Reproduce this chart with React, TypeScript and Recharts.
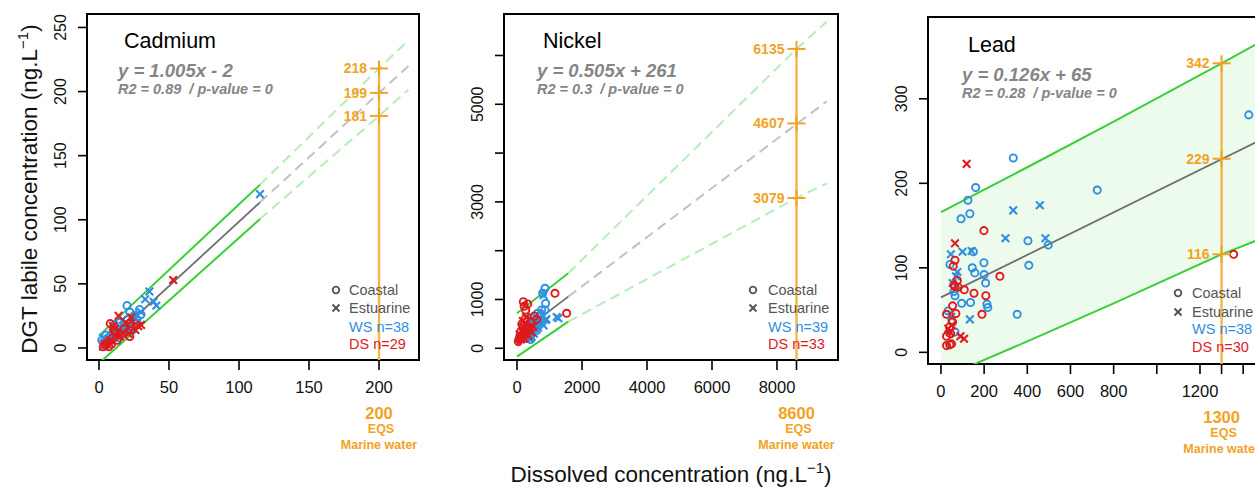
import React from "react";
import {
  ComposedChart,
  Scatter,
  Area,
  XAxis,
  YAxis,
  ReferenceArea,
} from "recharts";

const FONT = '"Liberation Sans", Arial, sans-serif';
const BLUE = "#2f8fe0";
const RED = "#de1a1d";
const ORANGE = "#f2a224";
const ORANGE_LINE = "#f5b548";
const GREEN = "#38cf38";
const GREEN_DASH = "#b6ecb6";
const GREY_DASH = "#c2c2c2";
const GREY_FIT = "#6f6f6f";

type Pt = { x: number; y: number; label?: string };

// ---------- Cadmium ----------
const cdWsCoastal: Pt[] = [
  { x: 20, y: 33 }, { x: 29, y: 30 }, { x: 2, y: 6 }, { x: 10, y: 12 },
  { x: 15, y: 20 }, { x: 25, y: 25 }, { x: 18, y: 18 }, { x: 27, y: 22 },
  { x: 12, y: 15 }, { x: 8, y: 9 }, { x: 22, y: 28 }, { x: 6, y: 5 },
  { x: 24, y: 14 }, { x: 17, y: 11 }, { x: 30, y: 26 }, { x: 14, y: 8 },
  { x: 5, y: 10 }, { x: 20, y: 22 }, { x: 26, y: 19 }, { x: 11, y: 18 },
];
const cdWsEstuarine: Pt[] = [
  { x: 115, y: 120 }, { x: 36, y: 44 }, { x: 39, y: 36 }, { x: 41, y: 33 },
  { x: 27, y: 26 }, { x: 17, y: 22 }, { x: 25, y: 24 }, { x: 30, y: 28 },
  { x: 22, y: 17 }, { x: 9, y: 7 }, { x: 14, y: 14 }, { x: 33, y: 38 },
  { x: 19, y: 15 }, { x: 28, y: 21 }, { x: 12, y: 11 }, { x: 4, y: 3 },
  { x: 7, y: 6 }, { x: 3, y: 8 },
];
const cdDsCoastal: Pt[] = [
  { x: 8, y: 19 }, { x: 22, y: 19 }, { x: 23, y: 17 }, { x: 22, y: 9 },
  { x: 5, y: 2 }, { x: 3, y: 1 }, { x: 6, y: 4 }, { x: 7, y: 1 },
  { x: 9, y: 3 }, { x: 10, y: 8 }, { x: 12, y: 12 }, { x: 15, y: 10 },
  { x: 18, y: 15 }, { x: 4, y: 3 }, { x: 13, y: 6 }, { x: 11, y: 14 },
];
const cdDsEstuarine: Pt[] = [
  { x: 53, y: 53 }, { x: 14, y: 25 }, { x: 23, y: 24 }, { x: 28, y: 17 },
  { x: 11, y: 15 }, { x: 15, y: 9 }, { x: 19, y: 20 }, { x: 26, y: 14 },
  { x: 10, y: 17 }, { x: 17, y: 12 }, { x: 30, y: 18 }, { x: 8, y: 6 },
  { x: 21, y: 11 },
];
const cdFit: Pt[] = [{ x: 0, y: -2 }, { x: 115, y: 113.6 }];
const cdFitExt: Pt[] = [{ x: 115, y: 113.6 }, { x: 221, y: 220 }];
const cdUpper: Pt[] = [{ x: 0, y: 9.6 }, { x: 115, y: 127.4 }];
const cdUpperExt: Pt[] = [{ x: 115, y: 127.4 }, { x: 200, y: 218 }, { x: 221, y: 240 }];
const cdLower: Pt[] = [{ x: 0, y: -12 }, { x: 115, y: 100.6 }];
const cdLowerExt: Pt[] = [{ x: 115, y: 100.6 }, { x: 200, y: 181 }, { x: 221, y: 201.5 }];
const cdEqs: Pt[] = [
  { x: 200, y: 218, label: "218" },
  { x: 200, y: 199, label: "199" },
  { x: 200, y: 181, label: "181" },
];
const cdXTicks = [0, 50, 100, 150, 200];
const cdYTicks = [0, 50, 100, 150, 200, 250];

// ---------- Nickel ----------
const niWsCoastal: Pt[] = [
  { x: 862, y: 1229 }, { x: 790, y: 1127 }, { x: 882, y: 922 }, { x: 759, y: 785 },
  { x: 636, y: 717 }, { x: 862, y: 785 }, { x: 700, y: 650 }, { x: 560, y: 580 },
  { x: 480, y: 520 }, { x: 520, y: 430 }, { x: 400, y: 380 }, { x: 600, y: 470 },
  { x: 450, y: 300 }, { x: 380, y: 250 }, { x: 300, y: 200 }, { x: 650, y: 560 },
  { x: 750, y: 700 }, { x: 420, y: 180 }, { x: 350, y: 420 }, { x: 560, y: 350 },
  { x: 280, y: 320 }, { x: 500, y: 620 },
];
const niWsEstuarine: Pt[] = [
  { x: 820, y: 1090 }, { x: 1272, y: 615 }, { x: 892, y: 580 }, { x: 1220, y: 640 },
  { x: 700, y: 520 }, { x: 600, y: 380 }, { x: 520, y: 300 }, { x: 450, y: 230 },
  { x: 380, y: 200 }, { x: 820, y: 470 }, { x: 650, y: 420 }, { x: 300, y: 260 },
  { x: 550, y: 480 }, { x: 480, y: 380 }, { x: 900, y: 600 }, { x: 350, y: 330 },
  { x: 420, y: 450 },
];
const niDsCoastal: Pt[] = [
  { x: 1169, y: 1127 }, { x: 1528, y: 717 }, { x: 195, y: 955 }, { x: 328, y: 908 },
  { x: 267, y: 785 }, { x: 220, y: 860 }, { x: 533, y: 662 }, { x: 605, y: 594 },
  { x: 150, y: 500 }, { x: 250, y: 600 }, { x: 300, y: 450 }, { x: 120, y: 350 },
  { x: 200, y: 300 }, { x: 90, y: 250 }, { x: 60, y: 180 }, { x: 41, y: 137 },
  { x: 180, y: 420 }, { x: 350, y: 380 }, { x: 100, y: 200 }, { x: 420, y: 540 },
];
const niDsEstuarine: Pt[] = [
  { x: 250, y: 520 }, { x: 300, y: 300 }, { x: 200, y: 350 }, { x: 150, y: 230 },
  { x: 400, y: 420 }, { x: 350, y: 250 }, { x: 120, y: 180 }, { x: 450, y: 330 },
  { x: 80, y: 280 }, { x: 500, y: 450 }, { x: 220, y: 200 }, { x: 280, y: 640 },
  { x: 180, y: 560 },
];
const niFit: Pt[] = [{ x: 0, y: 261 }, { x: 1578, y: 1058 }];
const niFitExt: Pt[] = [{ x: 1578, y: 1058 }, { x: 9529, y: 5060 }];
const niUpper: Pt[] = [{ x: 0, y: 717 }, { x: 1578, y: 1537 }];
const niUpperExt: Pt[] = [{ x: 1578, y: 1537 }, { x: 8600, y: 6135 }, { x: 9529, y: 6693 }];
const niLower: Pt[] = [{ x: 0, y: -172 }, { x: 1578, y: 545 }];
const niLowerExt: Pt[] = [{ x: 1578, y: 545 }, { x: 8600, y: 3079 }, { x: 9529, y: 3381 }];
const niEqs: Pt[] = [
  { x: 8600, y: 6135, label: "6135" },
  { x: 8600, y: 4607, label: "4607" },
  { x: 8600, y: 3079, label: "3079" },
];
const niXTicks = [0, 2000, 4000, 6000, 8000, 8600];
const niXLabels = [0, 2000, 4000, 6000, 8000];
const niYTicks = [0, 1000, 2000, 3000, 4000, 5000, 6000];
const niYLabels = [0, 1000, 3000, 5000];

// ---------- Lead ----------
const pbWsCoastal: Pt[] = [
  { x: 335, y: 230 }, { x: 161, y: 195 }, { x: 125, y: 180 }, { x: 134, y: 164 },
  { x: 93, y: 158 }, { x: 724, y: 192 }, { x: 403, y: 132 }, { x: 497, y: 127 },
  { x: 1426, y: 281 }, { x: 150, y: 119 }, { x: 42, y: 104 }, { x: 199, y: 106 },
  { x: 145, y: 100 }, { x: 157, y: 94 }, { x: 200, y: 92 }, { x: 407, y: 103 },
  { x: 207, y: 82 }, { x: 65, y: 67 }, { x: 96, y: 58 }, { x: 137, y: 59 },
  { x: 213, y: 57 }, { x: 217, y: 53 }, { x: 353, y: 45 }, { x: 33, y: 49 },
  { x: 65, y: 24 }, { x: 60, y: 72 },
];
const pbWsEstuarine: Pt[] = [
  { x: 335, y: 168 }, { x: 458, y: 174 }, { x: 299, y: 135 }, { x: 484, y: 135 },
  { x: 46, y: 116 }, { x: 100, y: 119 }, { x: 142, y: 120 }, { x: 76, y: 95 },
  { x: 54, y: 82 }, { x: 134, y: 39 }, { x: 70, y: 90 }, { x: 48, y: 42 },
];
const pbDsCoastal: Pt[] = [
  { x: 199, y: 144 }, { x: 65, y: 109 }, { x: 57, y: 102 }, { x: 273, y: 90 },
  { x: 76, y: 85 }, { x: 65, y: 78 }, { x: 80, y: 77 }, { x: 108, y: 74 },
  { x: 153, y: 70 }, { x: 208, y: 67 }, { x: 54, y: 55 }, { x: 190, y: 45 },
  { x: 26, y: 45 }, { x: 69, y: 46 }, { x: 54, y: 36 }, { x: 26, y: 19 },
  { x: 49, y: 10 }, { x: 26, y: 8 }, { x: 41, y: 9 }, { x: 1356, y: 116 },
  { x: 40, y: 30 }, { x: 60, y: 80 }, { x: 45, y: 22 },
];
const pbDsEstuarine: Pt[] = [
  { x: 119, y: 223 }, { x: 65, y: 129 }, { x: 34, y: 28 }, { x: 41, y: 24 },
  { x: 107, y: 16 }, { x: 90, y: 19 }, { x: 50, y: 32 },
];
const pbBandX = [0, 400, 800, 1300, 1478];
const pbUpperY = [166, 219, 273, 342, 367];
const pbLowerY = [-31, 13, 58, 116, 134];
const pbFit: Pt[] = [{ x: 0, y: 65 }, { x: 1478, y: 251 }];
const pbEqs: Pt[] = [
  { x: 1300, y: 342, label: "342" },
  { x: 1300, y: 229, label: "229" },
  { x: 1300, y: 116, label: "116" },
];
const pbXTicks = [0, 200, 400, 600, 800, 1000, 1200, 1300, 1400];
const pbXLabels = [0, 200, 400, 600, 800, 1200];
const pbYTicks = [0, 100, 200, 300];

const pbUpper: Pt[] = pbBandX.map((x, i) => ({ x, y: pbUpperY[i] }));
const pbLower: Pt[] = pbBandX.map((x, i) => ({ x, y: pbLowerY[i] }));
const pbBand = pbBandX.map((x, i) => ({ x, band: [pbLowerY[i], pbUpperY[i]] }));

type LineDef = { data: Pt[]; color: string; width: number; dash?: string };

const noShape = () => <g />;

const circleShape = (color: string) => (p: any) => (
  <circle cx={p.cx} cy={p.cy} r={3.6} fill="none" stroke={color} strokeWidth={1.9} />
);
const crossShape = (color: string) => (p: any) => (
  <g stroke={color} strokeWidth={2.1}>
    <line x1={p.cx - 3.8} y1={p.cy - 3.8} x2={p.cx + 3.8} y2={p.cy + 3.8} />
    <line x1={p.cx - 3.8} y1={p.cy + 3.8} x2={p.cx + 3.8} y2={p.cy - 3.8} />
  </g>
);
const eqsShape = (p: any) => (
  <g>
    <line x1={p.cx - 9} x2={p.cx + 9} y1={p.cy} y2={p.cy} stroke={ORANGE} strokeWidth={2} />
    <line x1={p.cx} x2={p.cx} y1={p.cy - 8} y2={p.cy + 8} stroke={ORANGE} strokeWidth={2} />
    <text
      x={p.cx - 12}
      y={p.cy + 5}
      textAnchor="end"
      fontFamily={FONT}
      fontWeight="bold"
      fontSize={14}
      fill={ORANGE}>
      {p.payload.label}
    </text>
  </g>
);

type PanelProps = {
  left: number;
  yAxisWidth: number;
  right: number;
  top: number;
  bottom: number;
  xDomain: [number, number];
  yDomain: [number, number];
  xTicks: number[];
  xLabels: number[];
  yTicks: number[];
  yLabels: number[];
  eqsX: number;
  eqs: Pt[];
  lines: LineDef[];
  ws: [Pt[], Pt[]];
  ds: [Pt[], Pt[]];
  band?: { x: number; band: number[] }[];
};

function Panel(p: PanelProps) {
  const eqsLine: Pt[] = [
    { x: p.eqsX, y: p.eqs[0].y },
    { x: p.eqsX, y: p.yDomain[0] - 50 },
  ];
  const renderXTick = (t: any) => {
    const v = t.payload.value;
    return (
      <g fontFamily={FONT}>
        {p.xLabels.includes(v) && (
          <text x={t.x} y={t.y + 19} textAnchor="middle" fontSize={16.5} fill="#111">
            {v}
          </text>
        )}
        {v === p.eqsX && (
          <g fill={ORANGE} fontWeight="bold" textAnchor="middle">
            <text x={t.x} y={t.y + 45} fontSize={16.5}>{v}</text>
            <text x={t.x + 2} y={t.y + 59} fontSize={12.5}>EQS</text>
            <text x={t.x} y={t.y + 74.5} fontSize={12.5}>Marine water</text>
          </g>
        )}
      </g>
    );
  };
  const renderYTick = (t: any) => {
    const v = t.payload.value;
    if (!p.yLabels.includes(v)) return <g />;
    const bx = t.x - 8;
    return (
      <text
        x={bx}
        y={t.y}
        transform={`rotate(-90 ${bx} ${t.y})`}
        textAnchor="middle"
        fontFamily={FONT}
        fontSize={16}
        fill="#111">
        {v}
      </text>
    );
  };
  return (
    <div style={{ position: "absolute", left: p.left, top: 0 }}>
      <ComposedChart
        width={420}
        height={470}
        data={p.band}
        margin={{ top: p.top, right: p.right, bottom: p.bottom, left: 0 }}>
        <XAxis
          type="number"
          dataKey="x"
          domain={p.xDomain}
          ticks={p.xTicks}
          interval={0}
          allowDataOverflow
          height={60}
          tickSize={10}
          tickMargin={4}
          axisLine={false}
          tickLine={{ stroke: "#000", strokeWidth: 1.6 }}
          tick={renderXTick}
        />
        <YAxis
          type="number"
          dataKey="y"
          domain={p.yDomain}
          ticks={p.yTicks}
          interval={0}
          allowDataOverflow
          width={p.yAxisWidth}
          tickSize={9}
          tickMargin={4}
          axisLine={false}
          tickLine={{ stroke: "#000", strokeWidth: 1.6 }}
          tick={renderYTick}
        />
        {p.band && (
          <Area
            type="linear"
            dataKey="band"
            stroke="none"
            fill="#edfbed"
            fillOpacity={1}
            isAnimationActive={false}
          />
        )}
        {p.lines.map((l, i) => (
          <Scatter
            key={`l${i}`}
            data={l.data}
            fill={l.color}
            line={{ stroke: l.color, strokeWidth: l.width, strokeDasharray: l.dash }}
            shape={noShape}
            isAnimationActive={false}
          />
        ))}
        <Scatter
          data={eqsLine}
          fill={ORANGE_LINE}
          line={{ stroke: ORANGE_LINE, strokeWidth: 2.4 }}
          shape={noShape}
          isAnimationActive={false}
        />
        <Scatter data={p.ws[0]} shape={circleShape(BLUE)} isAnimationActive={false} />
        <Scatter data={p.ws[1]} shape={crossShape(BLUE)} isAnimationActive={false} />
        <Scatter data={p.ds[0]} shape={circleShape(RED)} isAnimationActive={false} />
        <Scatter data={p.ds[1]} shape={crossShape(RED)} isAnimationActive={false} />
        <Scatter data={p.eqs} shape={eqsShape} isAnimationActive={false} />
        <ReferenceArea
          x1={p.xDomain[0]}
          x2={p.xDomain[1]}
          y1={p.yDomain[0]}
          y2={p.yDomain[1]}
          fill="none"
          stroke="#000"
          strokeWidth={2}
          ifOverflow="visible"
        />
      </ComposedChart>
    </div>
  );
}

function Legend({ sx, tx, rows, ws, ds }: { sx: number; tx: number; rows: number[]; ws: string; ds: string }) {
  return (
    <g fontFamily={FONT} fontSize={14.5}>
      <circle cx={sx} cy={rows[0]} r={3.3} fill="none" stroke="#555" strokeWidth={1.8} />
      <g stroke="#555" strokeWidth={2}>
        <line x1={sx - 3.5} y1={rows[1] - 3.5} x2={sx + 3.5} y2={rows[1] + 3.5} />
        <line x1={sx - 3.5} y1={rows[1] + 3.5} x2={sx + 3.5} y2={rows[1] - 3.5} />
      </g>
      <text x={tx} y={rows[0] + 5} fill="#555">Coastal</text>
      <text x={tx} y={rows[1] + 5} fill="#555">Estuarine</text>
      <text x={tx} y={rows[2] + 5} fill={BLUE}>{ws}</text>
      <text x={tx} y={rows[3] + 5} fill={RED}>{ds}</text>
    </g>
  );
}

function Heading({ x, y, title, eq, r2 }: { x: number; y: number; title: string; eq: string; r2: string }) {
  return (
    <g fontFamily={FONT}>
      <text x={x + 6} y={y} fontSize={21.5} fill="#000">{title}</text>
      <text x={x} y={y + 29} fontSize={18.5} fontWeight="bold" fontStyle="italic" fill="#858585">{eq}</text>
      <text x={x} y={y + 46} fontSize={14.5} fontWeight="bold" fontStyle="italic" fill="#858585" style={{ whiteSpace: "pre" }}>{r2}</text>
    </g>
  );
}

export default function App() {
  return (
    <div
      style={{
        position: "absolute",
        left: 0,
        top: 0,
        width: 1255,
        height: 487,
        overflow: "hidden",
        background: "#fff",
      }}>
      <Panel
        left={0}
        yAxisWidth={87}
        right={1}
        top={14}
        bottom={50}
        xDomain={[-8.57, 228.57]}
        yDomain={[-9.4, 260.5]}
        xTicks={cdXTicks}
        xLabels={cdXTicks}
        yTicks={cdYTicks}
        yLabels={cdYTicks}
        eqsX={200}
        eqs={cdEqs}
        lines={[
          { data: cdUpperExt, color: GREEN_DASH, width: 2, dash: "10 6" },
          { data: cdLowerExt, color: GREEN_DASH, width: 2, dash: "10 6" },
          { data: cdFitExt, color: GREY_DASH, width: 2, dash: "10 6" },
          { data: cdUpper, color: GREEN, width: 2 },
          { data: cdLower, color: GREEN, width: 2 },
          { data: cdFit, color: GREY_FIT, width: 1.8 },
        ]}
        ws={[cdWsCoastal, cdWsEstuarine]}
        ds={[cdDsCoastal, cdDsEstuarine]}
      />
      <Panel
        left={420}
        yAxisWidth={84}
        right={2}
        top={14}
        bottom={50}
        xDomain={[-400, 9877]}
        yDomain={[-240, 6850]}
        xTicks={niXTicks}
        xLabels={niXLabels}
        yTicks={niYTicks}
        yLabels={niYLabels}
        eqsX={8600}
        eqs={niEqs}
        lines={[
          { data: niUpperExt, color: GREEN_DASH, width: 2, dash: "10 6" },
          { data: niLowerExt, color: GREEN_DASH, width: 2, dash: "10 6" },
          { data: niFitExt, color: GREY_DASH, width: 2, dash: "10 6" },
          { data: niUpper, color: GREEN, width: 2 },
          { data: niLower, color: GREEN, width: 2 },
          { data: niFit, color: GREY_FIT, width: 1.8 },
        ]}
        ws={[niWsCoastal, niWsEstuarine]}
        ds={[niDsCoastal, niDsEstuarine]}
      />
      <Panel
        left={840}
        yAxisWidth={88}
        right={0}
        top={17}
        bottom={46}
        xDomain={[-60, 1478]}
        yDomain={[-13.8, 396.8]}
        xTicks={pbXTicks}
        xLabels={pbXLabels}
        yTicks={pbYTicks}
        yLabels={pbYTicks}
        eqsX={1300}
        eqs={pbEqs}
        band={pbBand}
        lines={[
          { data: pbUpper, color: GREEN, width: 2 },
          { data: pbLower, color: GREEN, width: 2 },
          { data: pbFit, color: GREY_FIT, width: 1.8 },
        ]}
        ws={[pbWsCoastal, pbWsEstuarine]}
        ds={[pbDsCoastal, pbDsEstuarine]}
      />
      <svg
        width={1255}
        height={487}
        style={{ position: "absolute", left: 0, top: 0, pointerEvents: "none" }}>
        <Heading x={118} y={48} title="Cadmium" eq="y = 1.005x - 2" r2="R2 = 0.89  / p-value = 0" />
        <Heading x={537} y={48} title="Nickel" eq="y = 0.505x + 261" r2="R2 = 0.3  / p-value = 0" />
        <Heading x={962} y={52} title="Lead" eq="y = 0.126x + 65" r2="R2 = 0.28  / p-value = 0" />
        <Legend sx={336} tx={349} rows={[290, 308, 327, 344]} ws="WS n=38" ds="DS n=29" />
        <Legend sx={753} tx={768} rows={[290, 308, 327, 344]} ws="WS n=39" ds="DS n=33" />
        <Legend sx={1178} tx={1192} rows={[293, 312, 329, 347]} ws="WS n=38" ds="DS n=30" />
        <text
          transform="translate(37,189) rotate(-90)"
          textAnchor="middle"
          fontFamily={FONT}
          fontSize={22.5}
          fill="#111">
          DGT labile concentration (ng.L
          <tspan dy={-9} fontSize={15}>−1</tspan>
          <tspan dy={9}>)</tspan>
        </text>
        <text x={671} y={482} textAnchor="middle" fontFamily={FONT} fontSize={22.5} fill="#111">
          Dissolved concentration (ng.L
          <tspan dy={-9} fontSize={15}>−1</tspan>
          <tspan dy={9}>)</tspan>
        </text>
      </svg>
    </div>
  );
}
